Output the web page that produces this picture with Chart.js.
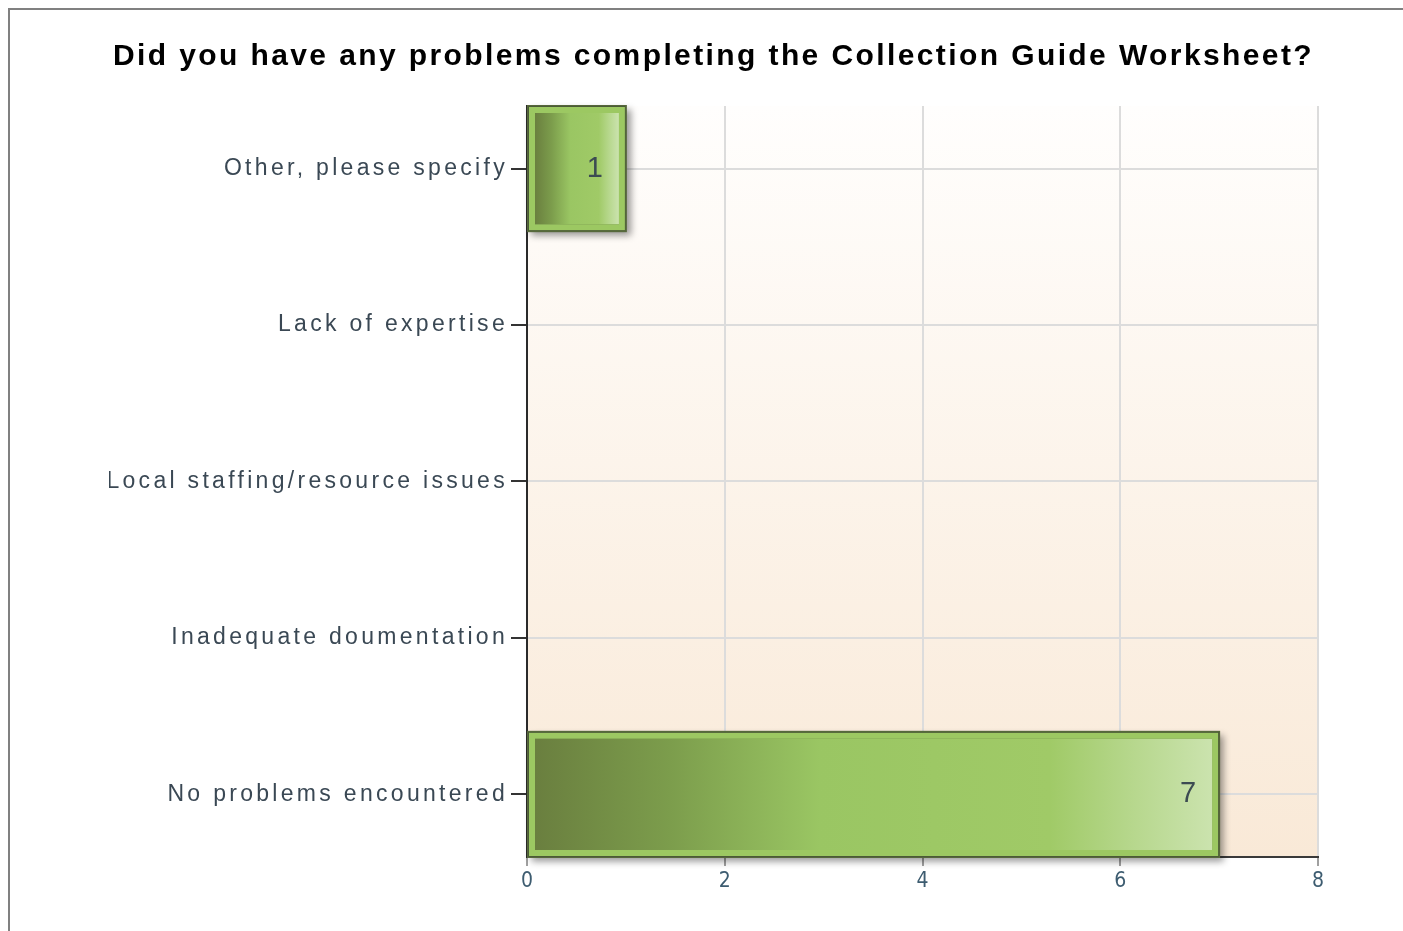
<!DOCTYPE html>
<html>
<head>
<meta charset="utf-8">
<title>Collection Guide Worksheet</title>
<script src="https://cdn.jsdelivr.net/npm/chart.js@4/dist/chart.umd.min.js"></script>
<style>
  html, body { margin: 0; padding: 0; background: #fff; overflow: hidden; }
  #frame {
    position: absolute; left: 8px; top: 8px;
    width: 1420px; height: 940px;
    border-left: 2px solid #808080; border-top: 2px solid #808080;
  }
  #wrap { position: absolute; left: 0; top: 0; width: 1408px; height: 921px; }
</style>
</head>
<body>
<div id="frame"><div id="wrap"><canvas id="chart"></canvas></div></div>
<script>
// answers, top to bottom
const categories = [
  "Other, please specify",
  "Lack of expertise",
  "Local staffing/resource issues",
  "Inadequate doumentation",
  "No problems encountered"
];
const responses = [1, 0, 0, 0, 7];
const xTicks = [0, 2, 4, 6, 8];

// plot background: white at top fading to light peach
const plotBackground = {
  id: "plotBackground",
  beforeDraw(chart) {
    const { ctx, chartArea: a } = chart;
    const g = ctx.createLinearGradient(0, a.top, 0, a.bottom);
    g.addColorStop(0, "#fffefd");
    g.addColorStop(1, "#f9e9d7");
    ctx.save();
    ctx.fillStyle = g;
    ctx.fillRect(a.left, a.top, a.right - a.left, a.bottom - a.top);
    ctx.restore();
    // wider tracking for the title (drawn before the datasets)
    ctx.letterSpacing = "2.4px";
  }
};

// shadow + outline under each bar, gradient face and value on top
const barStyle = {
  id: "barStyle",
  beforeDatasetsDraw(chart) {
    const ctx = chart.ctx;
    ctx.letterSpacing = "0px";
    chart.getDatasetMeta(0).data.forEach((el, i) => {
      if (!responses[i]) return;
      const { x, y, base, height } = el.getProps(["x", "y", "base", "height"], true);
      ctx.save();
      ctx.shadowColor = "rgba(0,0,0,0.4)";
      ctx.shadowBlur = 7;
      ctx.shadowOffsetX = 4;
      ctx.shadowOffsetY = 4;
      ctx.fillStyle = "#56663c";
      ctx.fillRect(base - 1, y - height / 2 - 1, x - base + 2, height + 2);
      ctx.restore();
    });
  },
  afterDatasetsDraw(chart) {
    const ctx = chart.ctx;
    chart.getDatasetMeta(0).data.forEach((el, i) => {
      if (!responses[i]) return;
      const { x, y, base, height } = el.getProps(["x", "y", "base", "height"], true);
      const inset = 7;
      const l = base + inset, r = x - inset;
      const g = ctx.createLinearGradient(l, 0, r, 0);
      g.addColorStop(0, "#6a7f3f");
      g.addColorStop(0.2, "#7c9d4c");
      g.addColorStop(0.42, "#9ac663");
      g.addColorStop(0.76, "#a0ca67");
      g.addColorStop(0.88, "#b6d78c");
      g.addColorStop(1, "#cbe3ae");
      ctx.save();
      ctx.fillStyle = g;
      ctx.fillRect(l, y - height / 2 + inset, r - l, height - inset * 2);
      ctx.strokeStyle = "#4b5a36";
      ctx.lineWidth = 1;
      ctx.strokeRect(base + 0.5, y - height / 2 + 0.5, x - base - 1, height - 1);
      ctx.fillStyle = "#3c4b52";
      ctx.font = "29px 'Liberation Sans', Arial, sans-serif";
      ctx.textAlign = "right";
      ctx.textBaseline = "middle";
      ctx.fillText(String(responses[i]), x - 23, y);
      ctx.restore();
    });
    // category labels are drawn after this (ticks.z = 1) with wider tracking
    ctx.letterSpacing = "3.3px";
  },
  afterDraw(chart) {
    chart.ctx.letterSpacing = "0px";
  }
};

new Chart(document.getElementById("chart"), {
  type: "bar",
  data: {
    datasets: [{
      data: responses.map((v, i) => ({ x: v, y: i })),
      backgroundColor: "#9cc862",
      borderColor: "#9cc862",
      borderWidth: 7,
      borderSkipped: false,
      categoryPercentage: 1,
      barPercentage: 0.8
    }]
  },
  options: {
    indexAxis: "y",
    responsive: true,
    maintainAspectRatio: false,
    animation: false,
    layout: { padding: { left: 99, right: 100, top: 0, bottom: 0 } },
    scales: {
      x: {
        type: "linear",
        min: 0,
        max: 8,
        afterBuildTicks: s => { s.ticks = xTicks.map(v => ({ value: v })); },
        afterFit: s => { s.height = 74; },
        grid: { color: "#dcdcdc", lineWidth: 2, tickLength: 9, tickColor: "#a0a0a0", tickWidth: 2 },
        border: { color: "#3a3a3a", width: 2 },
        ticks: {
          color: "#3d5c70",
          padding: 3,
          labelOffset: 1.2,
          font: { family: "'Liberation Sans Narrow', 'DejaVu Sans Condensed', 'Liberation Sans', Arial, sans-serif", size: 21 }
        }
      },
      y: {
        type: "linear",
        reverse: true,
        offset: false,
        min: -0.4,
        max: 4.4,
        afterBuildTicks: s => { s.ticks = categories.map((c, i) => ({ value: i })); },
        afterFit: s => { s.width = 418; },
        grid: { offset: false, color: "#dcdcdc", lineWidth: 2, tickLength: 16, tickColor: "#333", tickWidth: 2 },
        border: { color: "#2a2a2a", width: 2 },
        ticks: {
          z: 1,
          color: "#3a4854",
          padding: 3,
          font: { family: "'Liberation Sans', Arial, sans-serif", size: 23 },
          callback: v => categories[v]
        }
      }
    },
    plugins: {
      legend: { display: false },
      tooltip: { enabled: false },
      title: {
        display: true,
        text: "Did you have any problems completing the Collection Guide Worksheet?",
        color: "#000",
        font: { family: "'Liberation Sans', Arial, sans-serif", size: 30, weight: "bold", lineHeight: 1.2 },
        padding: { top: 29, bottom: 31 }
      }
    }
  },
  plugins: [plotBackground, barStyle]
});
</script>
</body>
</html>
